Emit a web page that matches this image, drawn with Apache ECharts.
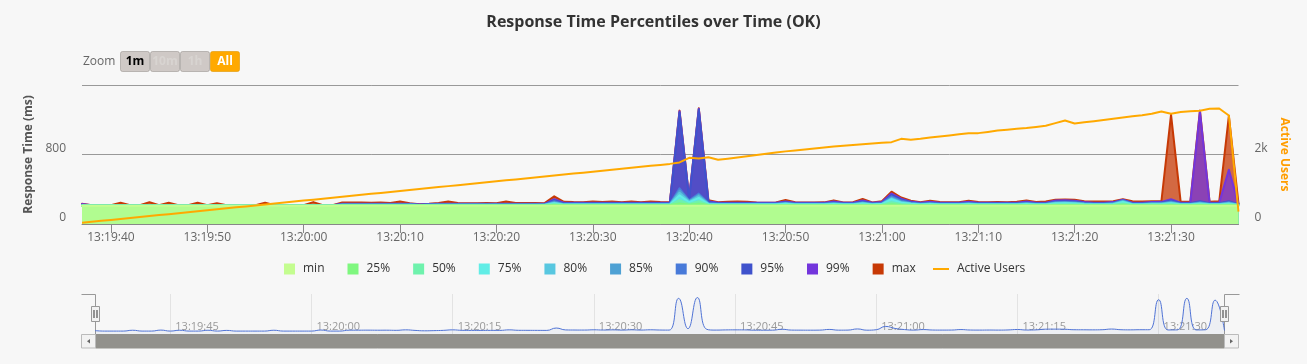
<!DOCTYPE html>
<html><head><meta charset="utf-8">
<script src="https://cdn.jsdelivr.net/npm/echarts@6/dist/echarts.min.js"></script>
<style>html,body{margin:0;padding:0;background:#f7f7f7}#c{width:1307px;height:364px}</style>
</head><body><div id="c"></div>
<script>
const startTime = '13:19:37';
const pointCount = 121;
const seriesNames = ['min','25%','50%','75%','80%','85%','90%','95%','99%','max'];
const seriesColors = ['#c4fd90','#7ff77f','#6ff2ad','#61ede6','#58c7e0','#4ea1d4','#487ad9','#3f52cc','#7335dc','#c73905'];
const usersName = 'Active Users';
const usersColor = '#FFA900';
const zoomButtons = ['1m','10m','1h','All'];
const msTicks = [0, 800, 1600];
const userTicks = [0, 2000, 4000];

const minVals = [
210,210,210,210,210,210,210,210,210,210,
210,210,210,210,210,210,210,210,210,210,
210,210,210,210,210,210,210,210,210,210,
210,210,210,210,210,210,210,210,210,210,
210,210,210,210,210,210,210,210,210,210,
210,210,210,210,210,210,210,210,210,210,
210,210,210,210,210,210,210,210,210,210,
210,210,210,210,210,210,210,210,210,210,
210,210,210,210,210,210,210,210,210,210,
210,210,210,210,210,210,210,210,210,210,
210,210,210,210,210,210,210,210,210,210,
210,210,210,210,210,210,210,210,210,210,
210];
const p25Vals = [
211,211,211,211,211,211,211,211,211,211,
211,211,211,211,211,211,211,211,211,211,
211,211,211,211,211,211,211,213,213,213,
213,213,213,213,213,213,213,213,213,213,
213,213,213,213,213,213,213,213,213,220,
215,215,215,215,215,215,215,215,215,215,
215,215,240,222,236,217,216,216,216,216,
216,216,216,216,216,216,216,216,216,216,
216,217,216,216,228,220,217,216,216,216,
216,216,216,216,216,216,216,216,216,216,
216,218,218,218,216,216,216,216,222,216,
216,216,216,218,216,216,218,216,216,218,
212];
const p50Vals = [
212,212,212,212,212,212,212,212,212,212,
212,212,212,212,212,212,212,212,212,212,
212,212,212,212,212,212,212,216,216,216,
216,216,216,216,216,216,216,216,216,216,
216,216,216,216,216,216,216,216,216,228,
219,219,219,219,219,219,219,219,219,219,
219,219,275,232,262,222,220,220,220,220,
220,220,220,220,220,220,220,220,220,220,
220,222,220,221,250,230,222,220,220,220,
220,220,220,220,220,220,220,220,220,220,
220,225,225,225,221,220,220,221,235,220,
220,221,221,226,220,220,225,220,220,225,
215];
const p75Vals = [
212,212,212,212,212,212,212,212,212,212,
212,212,212,212,212,212,212,212,212,212,
212,212,212,212,212,212,212,219,219,219,
219,219,219,219,219,217,218,219,219,219,
219,219,219,219,219,219,219,219,219,238,
223,223,223,223,223,223,223,223,223,223,
223,223,330,250,300,228,225,225,225,225,
225,225,225,232,225,225,225,225,230,225,
225,235,225,229,285,245,232,225,229,225,
225,225,229,225,225,225,225,225,230,225,
225,236,238,235,228,225,225,228,255,225,
225,228,228,238,225,225,234,225,225,234,
218];
const p80Vals = [
213,213,213,213,213,213,213,213,213,213,
213,213,213,213,213,213,213,213,213,213,
213,213,213,213,213,213,213,221,221,221,
221,221,221,221,221,218,220,221,221,221,
221,221,221,221,221,221,221,221,221,246,
226,226,226,226,226,226,226,226,226,226,
226,226,360,258,320,232,228,228,228,228,
228,228,228,236,228,228,228,228,234,228,
228,240,228,233,295,252,236,228,233,228,
228,228,233,228,228,228,228,228,234,228,
228,242,244,240,232,228,228,232,260,228,
228,232,232,245,228,228,240,228,228,240,
220];
const p85Vals = [
213,213,213,213,213,213,213,213,213,213,
213,213,213,213,213,213,213,213,213,213,
213,213,213,213,213,213,213,223,223,223,
223,223,223,223,223,219,221,223,223,223,
223,223,223,223,223,223,223,223,223,252,
229,229,229,229,229,229,229,229,229,229,
229,229,385,265,335,236,231,231,231,231,
231,231,231,240,231,231,231,231,238,231,
231,245,231,236,305,260,240,231,236,231,
231,231,236,231,231,231,231,231,238,231,
231,246,248,245,236,231,231,236,265,231,
231,236,236,250,231,231,244,231,231,244,
222];
const p90Vals = [
214,214,214,214,214,214,214,214,214,214,
214,214,214,214,214,214,214,214,214,214,
214,214,214,214,214,214,214,225,225,225,
225,225,225,225,225,220,223,225,225,225,
225,225,225,225,225,225,225,225,225,262,
232,232,232,232,232,232,232,232,232,232,
232,232,410,272,350,242,234,234,234,234,
234,234,234,244,234,234,234,234,242,234,
234,250,234,240,318,270,244,234,240,234,
234,234,240,234,234,234,234,234,242,234,
234,252,254,250,240,234,234,240,270,234,
234,240,240,258,234,234,250,234,234,250,
225];
const p95Vals = [
215,215,215,215,215,215,215,215,215,215,
215,215,215,215,215,215,215,215,215,215,
215,215,215,215,215,215,215,228,228,228,
228,228,228,228,228,222,226,228,228,228,
228,228,228,228,228,228,228,228,228,275,
238,238,238,238,238,238,238,238,238,238,
238,238,1285,285,1318,252,239,239,239,239,
239,239,239,250,239,239,239,239,248,239,
239,258,239,245,335,282,250,239,246,239,
239,239,246,239,239,239,239,239,248,239,
239,260,262,258,245,239,239,245,275,239,
239,245,246,270,239,239,262,239,239,262,
228];
const p99Vals = [
230,216,216,216,216,216,216,216,216,216,
216,216,216,216,216,216,216,216,216,216,
216,216,216,216,216,216,216,232,232,232,
232,232,232,232,232,224,230,232,232,232,
232,232,232,232,232,232,232,232,232,285,
244,244,244,244,244,244,244,244,244,244,
244,244,1298,292,1326,262,245,245,245,245,
245,245,245,260,245,245,245,245,258,245,
245,270,245,252,350,292,258,245,255,245,
245,245,255,245,245,245,245,245,258,245,
245,270,272,268,252,245,245,252,280,245,
245,252,255,285,245,245,1298,245,245,625,
230];
const maxVals = [
232,217,217,217,245,217,217,250,217,245,
217,217,245,217,240,217,217,217,217,245,
217,217,217,217,252,217,217,247,247,248,
246,247,242,258,240,226,232,241,258,242,
240,239,241,240,258,243,242,241,240,318,
256,252,251,260,252,258,250,260,251,260,
252,250,1305,298,1332,275,250,256,258,257,
247,246,248,277,250,248,247,249,272,248,
250,288,247,262,372,305,268,250,268,252,
250,251,268,252,250,252,250,255,270,252,
258,280,282,278,262,260,258,262,285,262,
258,262,262,1260,255,258,1305,255,262,1245,
235];
const usersVals = [
35,62,91,118,146,174,201,229,257,284,
312,340,368,396,423,451,479,507,534,562,
590,618,646,673,701,729,757,784,812,840,
868,895,923,951,979,1006,1034,1062,1090,1117,
1145,1173,1201,1229,1256,1284,1312,1340,1367,1395,
1423,1451,1478,1506,1534,1562,1590,1617,1645,1673,
1701,1730,1772,1905,1885,1922,1850,1880,1915,1950,
1985,2020,2055,2090,2117,2145,2172,2200,2228,2250,
2270,2292,2314,2335,2356,2450,2422,2450,2490,2520,
2550,2580,2612,2615,2650,2688,2712,2738,2762,2794,
2826,2903,2980,2893,2925,2955,2990,3030,3067,3098,
3130,3170,3240,3172,3220,3245,3260,3315,3325,3123,
355];

const pctData = [minVals,p25Vals,p50Vals,p75Vals,p80Vals,p85Vals,p90Vals,p95Vals,p99Vals,maxVals];

function buildTimes(start, n) {
  const [h, m, s] = start.split(':').map(Number);
  const t0 = h * 3600 + m * 60 + s;
  const out = [];
  for (let i = 0; i < n; i++) {
    const v = t0 + i;
    out.push([Math.floor(v / 3600), Math.floor(v / 60) % 60, v % 60].map(x => String(x).padStart(2, '0')).join(':'));
  }
  return out;
}
const times = buildTimes(startTime, pointCount);
const secOf = v => Number(String(v).slice(-2));

const FONT = "'Open Sans', 'DejaVu Sans', sans-serif";

const series = seriesNames.map((n, k) => ({
  name: n, type: 'line', xAxisIndex: 0, yAxisIndex: 0,
  data: pctData[k], symbol: 'none', showSymbol: false,
  z: 20 - k, color: seriesColors[k],
  itemStyle: { color: seriesColors[k] },
  lineStyle: { width: 2, color: seriesColors[k], join: 'round', cap: 'round' },
  areaStyle: { color: seriesColors[k], opacity: 0.75 },
  emphasis: { disabled: true }, silent: true, animation: false
}));
series.push({
  name: usersName, type: 'line', xAxisIndex: 0, yAxisIndex: 1,
  data: usersVals, symbol: 'none', showSymbol: false, z: 30,
  color: usersColor, itemStyle: { color: usersColor },
  lineStyle: { width: 2, color: usersColor, join: 'round' },
  emphasis: { disabled: true }, silent: true, animation: false
});
series.push({
  name: 'navigator', type: 'line', xAxisIndex: 1, yAxisIndex: 2,
  data: maxVals, smooth: 0.5, symbol: 'none', showSymbol: false, z: 5,
  color: '#4f73d6',
  lineStyle: { width: 1, color: '#4f73d6' },
  areaStyle: { color: 'rgba(51,92,173,0.07)', origin: 'start' },
  emphasis: { disabled: true }, silent: true, animation: false
});

const graphics = [];
graphics.push({ type: 'text', x: 83, y: 62, style: { text: 'Zoom', font: '12px ' + FONT, fill: '#666', align: 'left', verticalAlign: 'middle', textAlign: 'left', textVerticalAlign: 'middle' } });
const btnX = [120.5, 150.5, 180.5, 210.5];
zoomButtons.forEach((b, k) => {
  const sel = b === 'All';
  const dis = b === '10m' || b === '1h';
  graphics.push({ type: 'rect', shape: { x: btnX[k], y: 51.5, width: 29, height: 20, r: 2 }, style: { fill: sel ? '#FFA900' : '#CFC9C6', stroke: sel ? '#e09500' : '#9a9692', lineWidth: 0.6 } });
  graphics.push({ type: 'text', x: btnX[k] + 14.5, y: 61.5, style: { text: b, font: 'bold 12px ' + FONT, fill: sel ? '#fff' : (dis ? '#d8d4d1' : '#000'), align: 'center', verticalAlign: 'middle', textAlign: 'center', textVerticalAlign: 'middle' } });
});
graphics.push({ type: 'polyline', shape: { points: [[81.5, 294.5], [95.5, 294.5], [95.5, 334]] }, style: { stroke: '#999', lineWidth: 1, fill: null } });
graphics.push({ type: 'polyline', shape: { points: [[1224.5, 334], [1224.5, 294.5], [1239.5, 294.5]] }, style: { stroke: '#999', lineWidth: 1, fill: null } });
[95.5, 1224.5].forEach(cx => {
  graphics.push({ type: 'rect', z: 100, shape: { x: cx - 4, y: 306.5, width: 8, height: 15 }, style: { fill: '#f2f2f2', stroke: '#999', lineWidth: 1 } });
  graphics.push({ type: 'line', z: 101, shape: { x1: cx - 1.5, y1: 310, x2: cx - 1.5, y2: 318 }, style: { stroke: '#333', lineWidth: 1 } });
  graphics.push({ type: 'line', z: 101, shape: { x1: cx + 1.5, y1: 310, x2: cx + 1.5, y2: 318 }, style: { stroke: '#333', lineWidth: 1 } });
});
graphics.push({ type: 'rect', shape: { x: 95.5, y: 334.5, width: 1129, height: 13.5 }, style: { fill: '#92918C', stroke: '#92918C', lineWidth: 1 } });
graphics.push({ type: 'rect', shape: { x: 81.5, y: 334.5, width: 14, height: 13.5 }, style: { fill: '#f2f2f2', stroke: '#bbb', lineWidth: 1 } });
graphics.push({ type: 'rect', shape: { x: 1224.5, y: 334.5, width: 14, height: 13.5 }, style: { fill: '#f2f2f2', stroke: '#bbb', lineWidth: 1 } });
graphics.push({ type: 'polygon', shape: { points: [[87, 341.3], [90, 339], [90, 343.6]] }, style: { fill: '#666' } });
graphics.push({ type: 'polygon', shape: { points: [[1233, 341.3], [1230, 339], [1230, 343.6]] }, style: { fill: '#666' } });

const legendText = { fontSize: 12, color: '#333', fontFamily: FONT, padding: [0, 0, 0, 3] };

const option = {
  backgroundColor: '#f7f7f7',
  animation: false,
  textStyle: { fontFamily: FONT },
  title: {
    text: 'Response Time Percentiles over Time (OK)', left: 'center', top: 9,
    textStyle: { fontSize: 16, fontWeight: 'bold', color: '#333', fontFamily: FONT }
  },
  legend: [
    {
      data: seriesNames.map(n => ({ name: n, icon: 'rect' })),
      left: 279, top: 258, itemWidth: 11, itemHeight: 11, itemGap: 23,
      selectedMode: false, itemStyle: { borderWidth: 0 }, textStyle: legendText
    },
    {
      data: [{ name: usersName, icon: 'rect' }],
      left: 928, top: 258, itemWidth: 16, itemHeight: 2,
      selectedMode: false, itemStyle: { borderWidth: 0 }, textStyle: legendText
    }
  ],
  grid: [
    { left: 82, right: 68.5, top: 85, bottom: 140, containLabel: false, outerBoundsMode: 'none' },
    { left: 95, right: 82.5, top: 294, height: 40, containLabel: false, outerBoundsMode: 'none' }
  ],
  xAxis: [
    {
      type: 'category', gridIndex: 0, data: times, boundaryGap: false,
      axisLine: { show: true, lineStyle: { color: '#888', width: 1 } },
      axisTick: { show: true, length: 9, interval: (i, v) => secOf(v) % 10 === 0, lineStyle: { color: '#888' } },
      axisLabel: { interval: (i, v) => secOf(v) % 10 === 0, color: '#666', fontSize: 12, margin: 8, fontFamily: FONT },
      splitLine: { show: false }
    },
    {
      type: 'category', gridIndex: 1, data: times, boundaryGap: false,
      axisLine: { show: false }, axisTick: { show: false },
      axisLabel: { inside: true, interval: (i, v) => secOf(v) % 15 === 0, color: '#999', fontSize: 11, margin: 2, align: 'left', padding: [0, 0, 0, 5], fontFamily: FONT },
      splitLine: { show: true, interval: (i, v) => secOf(v) % 15 === 0, lineStyle: { color: '#e3e3e3', width: 1 } }
    }
  ],
  yAxis: [
    {
      type: 'value', gridIndex: 0, min: msTicks[0], max: msTicks[msTicks.length - 1], interval: msTicks[1] - msTicks[0],
      name: 'Response Time (ms)', nameLocation: 'middle', nameRotate: 90, nameGap: 33,
      nameTextStyle: { fontSize: 12, fontWeight: 'bold', color: '#555', fontFamily: FONT },
      axisLine: { show: false }, axisTick: { show: false },
      axisLabel: { color: '#666', fontSize: 12, margin: 16, verticalAlign: 'bottom', fontFamily: FONT, showMaxLabel: false, formatter: v => String(v) },
      splitLine: { show: true, lineStyle: { color: '#999', width: 1 } }
    },
    {
      type: 'value', gridIndex: 0, position: 'right', min: userTicks[0], max: userTicks[userTicks.length - 1], interval: userTicks[1] - userTicks[0],
      name: usersName, nameLocation: 'middle', nameRotate: -90, nameGap: 37,
      nameTextStyle: { fontSize: 12, fontWeight: 'bold', color: '#FF9D00', fontFamily: FONT },
      axisLine: { show: false }, axisTick: { show: false },
      axisLabel: { color: '#666', fontSize: 12, margin: 16, verticalAlign: 'bottom', fontFamily: FONT, showMaxLabel: false, formatter: v => v === 0 ? '0' : (v / 1000) + 'k' },
      splitLine: { show: false }
    },
    {
      type: 'value', gridIndex: 1, min: 120, max: 1450, show: false,
      axisLine: { show: false }, axisTick: { show: false }, axisLabel: { show: false }, splitLine: { show: false }
    }
  ],
  series: series,
  graphic: { elements: graphics }
};

const chart = echarts.init(document.getElementById('c'), null, { renderer: 'canvas' });
chart.setOption(option);
</script>
</body></html>
